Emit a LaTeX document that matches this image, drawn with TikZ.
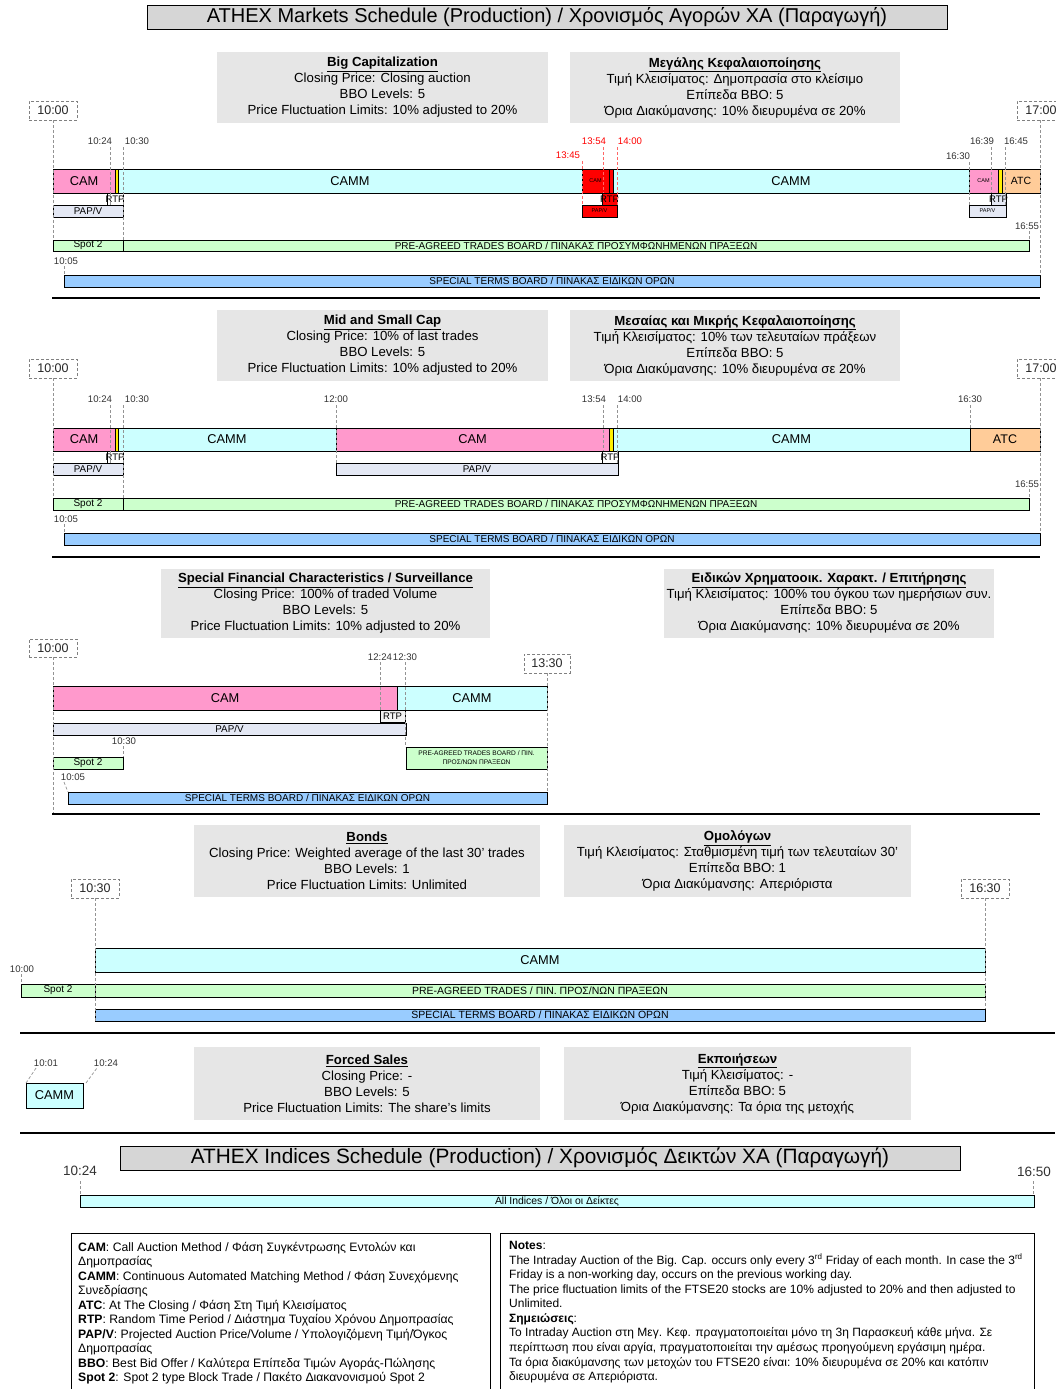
\documentclass[tikz,border=0pt]{standalone}
\usepackage{fontspec}
\setmainfont{Liberation Sans}
\definecolor{campink}{HTML}{FF99CC}
\definecolor{cammcyan}{HTML}{CCFFFF}
\definecolor{atcorange}{HTML}{FFCC99}
\definecolor{spotgreen}{HTML}{CCFFCC}
\definecolor{stblue}{HTML}{99CCFF}
\definecolor{paplav}{HTML}{E4E8F4}
\definecolor{stripyellow}{HTML}{FFEE00}
\definecolor{infogray}{HTML}{E6E6E6}
\definecolor{titlegray}{HTML}{D6D6D6}
\newcommand\fs[1]{\fontsize{#1}{#1}\selectfont}
\newcommand\mybox[7]{\node[#6, minimum width={(#4)-(#2)}, minimum height={(#5)-(#3)}] (#1) at ({((#2)+(#4))/2},{((#3)+(#5))/2}) {\makebox[0pt]{#7}};}
\newcommand\infobox[6]{\node[info, minimum width={(#4)-(#2)}, minimum height={(#5)-(#3)}] (#1) at ({((#2)+(#4))/2},{((#3)+(#5))/2}) {#6};}
\tikzset{
  bar/.style={draw=black, line width=0.7pt, inner sep=0pt, outer sep=0pt},
  pinkbar/.style={bar, fill=campink, font=\fs{12.8}},
  cyanbar/.style={bar, fill=cammcyan, font=\fs{12.8}},
  atcbar/.style={bar, fill=atcorange, font=\fs{12.5}},
  ystrip/.style={bar, fill=stripyellow},
  redbar/.style={bar, fill=red, font=\fs{5.5}},
  rtpbox/.style={bar, fill=white, font=\fs{9.5}},
  papbar/.style={bar, fill=paplav, font=\fs{9.8}},
  spotbar/.style={bar, fill=spotgreen, font=\fs{10}},
  stbar/.style={bar, fill=stblue, font=\fs{10}},
  titlebox/.style={bar, line width=0.9pt, fill=titlegray, font=\fs{20}},
  info/.style={fill=infogray, inner sep=0pt, align=center, font={\fontsize{13.2}{16}\selectfont}},
  tbox/.style={draw=gray, dash pattern=on 3pt off 2pt, line width=0.7pt, inner sep=0pt, fill=white, font=\fs{12.5}, text=black!85},
  tl/.style={inner sep=0pt, font=\fs{9.6}, text=black!80},
  rtl/.style={tl, text=red},
  dl/.style={gray!85, dash pattern=on 3pt off 2pt, line width=0.7pt},
  rdl/.style={dl, red!60},
  sepline/.style={line width=2.5pt, black},
  lgt/.style={anchor=base west, inner sep=0pt, font=\fs{12.2}},
  ntt/.style={anchor=base west, inner sep=0pt, font=\fs{12}},
}
\begin{document}
\begin{tikzpicture}[x=1pt, y=-1pt]
\useasboundingbox (0,0) rectangle (1055,1389);
\fill[white] (0,0) rectangle (1055,1389);

% ===== Title =====
\mybox{title}{147}{5}{947}{29}{titlebox}{ATHEX Markets Schedule (Production) / Χρονισμός Αγορών ΧΑ (Παραγωγή)}

% ===== Section 1: Big Cap =====
\infobox{ib1L}{217}{52}{548}{123}{\textbf{\underline{Big Capitalization}}\\Closing Price: Closing auction\\BBO Levels: 5\\Price Fluctuation Limits: 10\% adjusted to 20\%}
\infobox{ib1R}{570}{52}{900}{123}{\textbf{\underline{Μεγάλης Κεφαλαιοποίησης}}\\Τιμή Κλεισίματος: Δημοπρασία στο κλείσιμο\\Επίπεδα BBO: 5\\Όρια Διακύμανσης: 10\% διευρυμένα σε 20\%}
\mybox{tb1a}{29}{101}{77}{120}{tbox}{10:00}
\mybox{tb1b}{1017}{101}{1065}{120}{tbox}{17:00}

\mybox{cam1}{53}{169}{115}{193}{pinkbar}{CAM}
\mybox{ys1}{115}{169}{118}{193}{ystrip}{}
\mybox{camm1}{118}{169}{582}{193}{cyanbar}{CAMM}
\mybox{rcam1}{582}{169}{609}{193}{redbar}{CAM}
\mybox{rs1}{609}{169}{613}{193}{redbar}{}
\mybox{camm1b}{613}{169}{969}{193}{cyanbar}{CAMM}
\mybox{cam1c}{969}{169}{998}{193}{pinkbar, font=\fs{5.5}}{CAM}
\mybox{ys1c}{998}{169}{1002}{193}{ystrip}{}
\mybox{atc1}{1002}{169}{1040}{193}{atcbar, font=\fs{10.5}}{ATC}

\mybox{rtp1}{107}{193}{123}{205}{rtpbox}{RTP}
\mybox{rtp1b}{602}{193}{617}{205}{redbar, font=\fs{9.5}}{RTP}
\mybox{rtp1c}{991}{193}{1006}{205}{rtpbox, fill=paplav}{RTP}

\mybox{pap1}{53}{205}{123}{217}{papbar}{PAP/V}
\mybox{pap1b}{582}{205}{617}{217}{redbar}{PAP/V}
\mybox{pap1c}{969}{205}{1006}{217}{papbar, font=\fs{5.5}}{PAP/V}

\mybox{sp1}{53}{240}{123}{251}{spotbar}{Spot 2}
\mybox{pre1}{123}{240}{1029}{251}{spotbar}{PRE-AGREED TRADES BOARD / ΠΙΝΑΚΑΣ ΠΡΟΣΥΜΦΩΝΗΜΕΝΩΝ ΠΡΑΞΕΩΝ}
\mybox{st1}{64}{275}{1040}{287}{stbar}{SPECIAL TERMS BOARD / ΠΙΝΑΚΑΣ ΕΙΔΙΚΩΝ ΟΡΩΝ}

\node[tl] (l1a) at (100,141) {10:24};
\node[tl] (l1b) at (137,141) {10:30};
\node[rtl] (l1c) at (568,155) {13:45};
\node[rtl] (l1d) at (594,141) {13:54};
\node[rtl] (l1e) at (630,141) {14:00};
\node[tl] (l1f) at (958,156) {16:30};
\node[tl] (l1g) at (982,141) {16:39};
\node[tl] (l1h) at (1016,141) {16:45};
\node[tl] (l1i) at (1027,226) {16:55};
\node[tl] (l1j) at (66,261) {10:05};

\draw[dl] (tb1a.south) -- (53,240);
\draw[dl] (110,147) -- (110,205);
\draw[dl] (123,147) -- (123,240);
\draw[rdl] (582,161) -- (582,205);
\draw[rdl] (603,147) -- (603,193);
\draw[rdl] (617,147) -- (617,205);
\draw[dl] (969,162) -- (969,205);
\draw[dl] (991,147) -- (991,193);
\draw[dl] (1005,147) -- (1005,205);
\draw[dl] (1029,231) -- (1029,240);
\draw[dl] (1040,120) -- (1040,275);
\draw[dl] (64,266) -- (64,275);
\draw[sepline] (52,298) -- (1040,298);

% ===== Section 2: Mid and Small Cap =====
\infobox{ib2L}{217}{310}{548}{381}{\textbf{\underline{Mid and Small Cap}}\\Closing Price: 10\% of last trades\\BBO Levels: 5\\Price Fluctuation Limits: 10\% adjusted to 20\%}
\infobox{ib2R}{570}{310}{900}{381}{\textbf{\underline{Μεσαίας και Μικρής Κεφαλαιοποίησης}}\\Τιμή Κλεισίματος: 10\% των τελευταίων πράξεων\\Επίπεδα BBO: 5\\Όρια Διακύμανσης: 10\% διευρυμένα σε 20\%}
\mybox{tb2a}{29}{359}{77}{378}{tbox}{10:00}
\mybox{tb2b}{1017}{359}{1065}{378}{tbox}{17:00}

\mybox{cam2}{53}{428}{115}{451}{pinkbar}{CAM}
\mybox{ys2}{115}{428}{118}{451}{ystrip}{}
\mybox{camm2}{118}{428}{336}{451}{cyanbar}{CAMM}
\mybox{cam2b}{336}{428}{609}{451}{pinkbar}{CAM}
\mybox{ys2b}{609}{428}{613}{451}{ystrip}{}
\mybox{camm2b}{613}{428}{970}{451}{cyanbar}{CAMM}
\mybox{atc2}{970}{428}{1040}{451}{atcbar}{ATC}

\mybox{rtp2}{107}{451}{123}{463}{rtpbox}{RTP}
\mybox{rtp2b}{602}{451}{618}{463}{rtpbox}{RTP}
\mybox{pap2}{53}{463}{123}{475}{papbar}{PAP/V}
\mybox{pap2b}{336}{463}{618}{475}{papbar}{PAP/V}

\mybox{sp2}{53}{498}{123}{510}{spotbar}{Spot 2}
\mybox{pre2}{123}{498}{1029}{510}{spotbar}{PRE-AGREED TRADES BOARD / ΠΙΝΑΚΑΣ ΠΡΟΣΥΜΦΩΝΗΜΕΝΩΝ ΠΡΑΞΕΩΝ}
\mybox{st2}{64}{533}{1040}{545}{stbar}{SPECIAL TERMS BOARD / ΠΙΝΑΚΑΣ ΕΙΔΙΚΩΝ ΟΡΩΝ}

\node[tl] (l2a) at (100,399) {10:24};
\node[tl] (l2b) at (137,399) {10:30};
\node[tl] (l2c) at (336,399) {12:00};
\node[tl] (l2d) at (594,399) {13:54};
\node[tl] (l2e) at (630,399) {14:00};
\node[tl] (l2f) at (970,399) {16:30};
\node[tl] (l2g) at (1027,484) {16:55};
\node[tl] (l2h) at (66,519) {10:05};

\draw[dl] (tb2a.south) -- (53,498);
\draw[dl] (110,405) -- (110,463);
\draw[dl] (123,405) -- (123,498);
\draw[dl] (336,405) -- (336,463);
\draw[dl] (603,405) -- (603,451);
\draw[dl] (617,405) -- (617,463);
\draw[dl] (970,405) -- (970,428);
\draw[dl] (1029,489) -- (1029,498);
\draw[dl] (1040,378) -- (1040,533);
\draw[dl] (64,524) -- (64,533);
\draw[sepline] (52,557) -- (1040,557);

% ===== Section 3: Special Financial Characteristics =====
\infobox{ib3L}{161}{569}{490}{638}{\textbf{\underline{Special Financial Characteristics / Surveillance}}\\Closing Price: 100\% of traded Volume\\BBO Levels: 5\\Price Fluctuation Limits: 10\% adjusted to 20\%}
\infobox{ib3R}{664}{569}{994}{638}{\textbf{\underline{Ειδικών Χρηματοοικ. Χαρακτ. / Επιτήρησης}}\\Τιμή Κλεισίματος: 100\% του όγκου των ημερήσιων συν.\\Επίπεδα BBO: 5\\Όρια Διακύμανσης: 10\% διευρυμένα σε 20\%}
\mybox{tb3a}{29}{639}{77}{657}{tbox}{10:00}
\mybox{tb3b}{524}{654}{570}{673}{tbox}{13:30}

\mybox{cam3}{53}{686}{397}{710}{pinkbar}{CAM}
\mybox{camm3}{397}{686}{547}{710}{cyanbar}{CAMM}
\mybox{rtp3}{380}{710}{405}{722}{rtpbox, fill=gray!8}{RTP}
\mybox{pap3}{53}{723}{406}{735}{papbar}{PAP/V}
\mybox{sp3}{53}{757}{123}{769}{spotbar}{Spot 2}
\mybox{pre3}{406}{747}{547}{769}{spotbar, font=\fs{6.6}}{\shortstack{PRE-AGREED TRADES BOARD / ΠΙΝ.\\[1pt]ΠΡΟΣ/ΝΩΝ ΠΡΑΞΕΩΝ}}
\mybox{st3}{68}{792}{547}{804}{stbar}{SPECIAL TERMS BOARD / ΠΙΝΑΚΑΣ ΕΙΔΙΚΩΝ ΟΡΩΝ}

\node[tl] (l3a) at (380,657) {12:24};
\node[tl] (l3b) at (405,657) {12:30};
\node[tl] (l3c) at (124,741) {10:30};
\node[tl] (l3d) at (73,777) {10:05};

\draw[dl] (tb3a.south) -- (53,814);
\draw[dl] (380,662) -- (380,710);
\draw[dl] (405,662) -- (405,747);
\draw[dl] (tb3b.south) -- (547,792);
\draw[dl] (123,746) -- (123,757);
\draw[dl] (64,782) -- (68,792);
\draw[black, line width=1.2pt] (52,814) -- (1040,814);

% ===== Section 4: Bonds =====
\infobox{ib4L}{194}{825}{540}{897}{\textbf{\underline{Bonds}}\\Closing Price: Weighted average of the last 30' trades\\BBO Levels: 1\\Price Fluctuation Limits: Unlimited}
\infobox{ib4R}{564}{825}{911}{897}{\textbf{\underline{Ομολόγων}}\\Τιμή Κλεισίματος: Σταθμισμένη τιμή των τελευταίων 30'\\Επίπεδα BBO: 1\\Όρια Διακύμανσης: Απεριόριστα}
\mybox{tb4a}{71}{879}{119}{898}{tbox}{10:30}
\mybox{tb4b}{961}{879}{1009}{898}{tbox}{16:30}

\mybox{camm4}{95}{948}{985}{972}{cyanbar}{CAMM}
\mybox{sp4}{21}{984}{95}{997}{spotbar}{Spot 2}
\mybox{pre4}{95}{984}{985}{997}{spotbar, font=\fs{10.5}}{PRE-AGREED TRADES / ΠΙΝ. ΠΡΟΣ/ΝΩΝ ΠΡΑΞΕΩΝ}
\mybox{st4}{95}{1009}{985}{1021}{stbar, font=\fs{10.5}}{SPECIAL TERMS BOARD / ΠΙΝΑΚΑΣ ΕΙΔΙΚΩΝ ΟΡΩΝ}
\node[tl] (l4a) at (22,969) {10:00};

\draw[dl] (tb4a.south) -- (95,1021);
\draw[dl] (tb4b.south) -- (985,1009);
\draw[dl] (21,974) -- (21,984);
\draw[sepline] (20,1033) -- (1055,1033);

% ===== Section 5: Forced Sales =====
\infobox{ib5L}{194}{1047}{540}{1120}{\textbf{\underline{Forced Sales}}\\Closing Price: -\\BBO Levels: 5\\Price Fluctuation Limits: The share’s limits}
\infobox{ib5R}{564}{1047}{911}{1120}{\textbf{\underline{Εκποιήσεων}}\\Τιμή Κλεισίματος: -\\Επίπεδα BBO: 5\\Όρια Διακύμανσης: Τα όρια της μετοχής}
\mybox{camm5}{26}{1083}{83}{1108}{cyanbar}{CAMM}
\node[tl] (l5a) at (46,1063) {10:01};
\node[tl] (l5b) at (106,1063) {10:24};
\draw[dl] (camm5.north west) -- (36,1068);
\draw[dl] (camm5.north east) ++(3,0) -- (97,1068);
\draw[sepline] (20,1133) -- (1055,1133);

% ===== Indices =====
\mybox{title2}{120}{1146}{960}{1170}{titlebox, font=\fs{20.8}}{ATHEX Indices Schedule (Production) / Χρονισμός Δεικτών ΧΑ (Παραγωγή)}
\node[tl, font=\fs{13.5}] (l6a) at (80,1171) {10:24};
\node[tl, font=\fs{13.5}] (l6b) at (1034,1172) {16:50};
\mybox{allind}{80}{1195}{1034}{1207}{cyanbar, font=\fs{10.4}}{All Indices / Όλοι οι Δείκτες}
\draw[dl] (80,1181) -- (80,1195);
\draw[dl] (1033,1181) -- (1033,1195);

% ===== Legend =====
\draw[black, line width=0.8pt] (71,1233) rectangle (490,1395);
\draw[black, line width=0.8pt] (500,1233) rectangle (1034,1395);
\node[lgt] (g1) at (78,1251) {\textbf{CAM}: Call Auction Method / Φάση Συγκέντρωσης Εντολών και};
\node[lgt] (g2) at (78,1265.5) {Δημοπρασίας};
\node[lgt] (g3) at (78,1280) {\textbf{CAMM}: Continuous Automated Matching Method / Φάση Συνεχόμενης};
\node[lgt] (g4) at (78,1294.5) {Συνεδρίασης};
\node[lgt] (g5) at (78,1309) {\textbf{ATC}: At The Closing / Φάση Στη Τιμή Κλεισίματος};
\node[lgt] (g6) at (78,1323.5) {\textbf{RTP}: Random Time Period / Διάστημα Τυχαίου Χρόνου Δημοπρασίας};
\node[lgt] (g7) at (78,1338) {\textbf{PAP/V}: Projected Auction Price/Volume / Υπολογιζόμενη Τιμή/Όγκος};
\node[lgt] (g8) at (78,1352.5) {Δημοπρασίας};
\node[lgt] (g9) at (78,1367) {\textbf{BBO}: Best Bid Offer / Καλύτερα Επίπεδα Τιμών Αγοράς-Πώλησης};
\node[lgt] (g10) at (78,1381.5) {\textbf{Spot 2}: Spot 2 type Block Trade / Πακέτο Διακανονισμού Spot 2};

\node[ntt] (n1) at (509,1249) {\textbf{Notes}:};
\node[ntt] (n2) at (509,1264) {The Intraday Auction of the Big. Cap. occurs only every 3\textsuperscript{rd} Friday of each month. In case the 3\textsuperscript{rd}};
\node[ntt] (n3) at (509,1278) {Friday is a non-working day, occurs on the previous working day.};
\node[ntt] (n4) at (509,1293) {The price fluctuation limits of the FTSE20 stocks are 10\% adjusted to 20\% and then adjusted to};
\node[ntt] (n5) at (509,1307) {Unlimited.};
\node[ntt] (n6) at (509,1322) {\textbf{Σημειώσεις}:};
\node[ntt] (n7) at (509,1336) {Το Intraday Auction στη Μεγ. Κεφ. πραγματοποιείται μόνο τη 3η Παρασκευή κάθε μήνα. Σε};
\node[ntt] (n8) at (509,1351) {περίπτωση που είναι αργία, πραγματοποιείται την αμέσως προηγούμενη εργάσιμη ημέρα.};
\node[ntt] (n9) at (509,1366) {Τα όρια διακύμανσης των μετοχών του FTSE20 είναι: 10\% διευρυμένα σε 20\% και κατόπιν};
\node[ntt] (n10) at (509,1380) {διευρυμένα σε Απεριόριστα.};
\end{tikzpicture}
\end{document}
